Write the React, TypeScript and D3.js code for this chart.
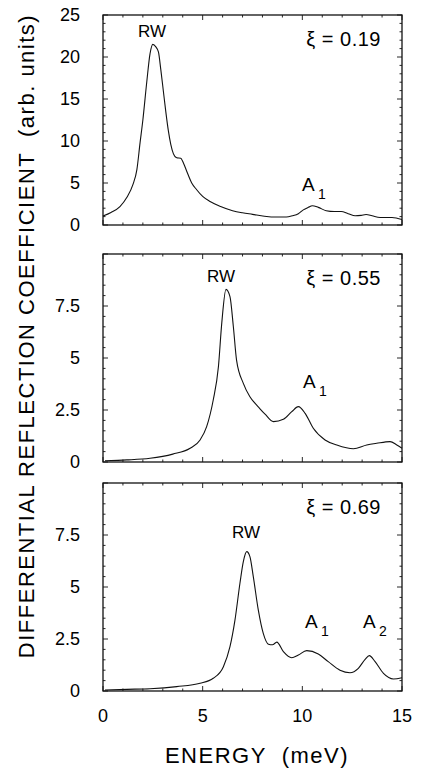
import React, { useRef, useEffect } from 'react';
import * as d3 from 'd3';

// xi = 0.19
const energy1 = [0, 0.4, 0.85, 1.2, 1.5, 1.7, 1.86, 2.0, 2.19, 2.36, 2.5, 2.65, 2.78, 2.9, 3.03, 3.15, 3.28, 3.4, 3.53, 3.7, 3.9, 4.05, 4.2, 4.45, 4.7, 5.0, 5.37, 5.9, 6.5, 7.0, 7.5, 8.1, 8.7, 9.2, 9.5, 9.8, 10.05, 10.3, 10.5, 10.8, 11.2, 11.6, 11.95, 12.3, 12.65, 12.95, 13.2, 13.5, 13.9, 14.5, 15];
const signal1 = [1.07, 1.5, 2.2, 3.3, 4.8, 6.6, 9.8, 12.5, 16.9, 20.4, 21.5, 21.2, 20.6, 18.5, 15.9, 13.5, 11.2, 9.6, 8.5, 8.0, 7.95, 7.3, 6.4, 5.0, 4.2, 3.4, 2.8, 2.2, 1.7, 1.45, 1.27, 1.05, 0.95, 0.95, 1.1, 1.35, 1.8, 2.1, 2.3, 2.1, 1.7, 1.6, 1.6, 1.35, 1.1, 1.15, 1.25, 1.1, 0.9, 0.9, 0.65];

// xi = 0.55
const energy2 = [0.1, 1.2, 2.36, 3.5, 4.37, 4.87, 5.2, 5.53, 5.79, 5.96, 6.17, 6.37, 6.54, 6.7, 7.04, 7.37, 7.6, 7.79, 8.13, 8.55, 9.05, 9.47, 9.8, 10.14, 10.55, 11.14, 11.73, 12.56, 13.23, 13.73, 14.4, 14.74, 15];
const signal2 = [0.06, 0.1, 0.18, 0.38, 0.66, 1.06, 1.7, 2.98, 4.58, 6.7, 8.3, 7.95, 6.5, 4.9, 3.78, 3.14, 2.85, 2.65, 2.3, 1.94, 2.05, 2.42, 2.66, 2.34, 1.62, 1.06, 0.82, 0.64, 0.82, 0.9, 0.98, 0.82, 0.66];

// xi = 0.69
const energy3 = [0.1, 1.2, 2.36, 3.7, 4.87, 5.53, 6.04, 6.37, 6.62, 6.87, 7.04, 7.21, 7.37, 7.54, 7.79, 8.04, 8.3, 8.5, 8.72, 9.05, 9.47, 9.8, 10.22, 10.8, 11.3, 11.89, 12.39, 12.81, 13.15, 13.36, 13.65, 14.07, 14.57, 15];
const signal3 = [0.05, 0.08, 0.11, 0.21, 0.37, 0.61, 1.17, 2.13, 3.41, 5.18, 6.22, 6.7, 6.46, 5.5, 3.9, 2.77, 2.25, 2.22, 2.35, 1.89, 1.6, 1.73, 1.94, 1.78, 1.41, 1.0, 0.88, 1.09, 1.52, 1.7, 1.41, 0.85, 0.58, 0.64];

const xiLabels = ['ξ = 0.19', 'ξ = 0.55', 'ξ = 0.69'];
const xTicks = [0, 5, 10, 15];
const yTicks1 = [0, 5, 10, 15, 20, 25];
const yTicks23 = [0, 2.5, 5, 7.5];

const FONT = '"Liberation Sans", Arial, Helvetica, sans-serif';

const App = () => {
  const svgRef = useRef(null);

  const w = 421;
  const h = 768;
  const left = 103;
  const right = 402;

  useEffect(() => {
    const svg = d3.select(svgRef.current);
    svg.selectAll('*').remove();

    const x = d3.scaleLinear().domain([0, 15]).range([left, right]);

    const panels = [
      { top: 15, bottom: 225, ymax: 25, ticks: yTicks1, minor: 1, e: energy1, s: signal1 },
      { top: 254, bottom: 462, ymax: 10, ticks: yTicks23, minor: 0.5, e: energy2, s: signal2 },
      { top: 483, bottom: 691, ymax: 10, ticks: yTicks23, minor: 0.5, e: energy3, s: signal3 },
    ];

    panels.forEach((p, i) => {
      const y = d3.scaleLinear().domain([0, p.ymax]).range([p.bottom, p.top]);
      const g = svg.append('g');

      // minor + major ticks, inward on all four sides
      d3.range(0, 15.01, 1).forEach(v => {
        const len = v % 5 === 0 ? 5 : 2.5;
        g.append('line').attr('x1', x(v)).attr('x2', x(v)).attr('y1', p.bottom).attr('y2', p.bottom - len);
        g.append('line').attr('x1', x(v)).attr('x2', x(v)).attr('y1', p.top).attr('y2', p.top + len);
      });
      d3.range(0, p.ymax + 0.001, p.minor).forEach(v => {
        const major = p.ticks.some(t => Math.abs(t - v) < 1e-6) || Math.abs(v - p.ymax) < 1e-6;
        const len = major ? 5 : 2.5;
        g.append('line').attr('x1', left).attr('x2', left + len).attr('y1', y(v)).attr('y2', y(v));
        g.append('line').attr('x1', right).attr('x2', right - len).attr('y1', y(v)).attr('y2', y(v));
      });
      g.selectAll('line').attr('stroke', '#111').attr('stroke-width', 0.9);

      // frame
      g.append('rect')
        .attr('x', left).attr('y', p.top)
        .attr('width', right - left).attr('height', p.bottom - p.top)
        .attr('fill', 'none').attr('stroke', '#111').attr('stroke-width', 1.3);

      // y tick labels
      g.selectAll('text.ytick')
        .data(p.ticks)
        .enter()
        .append('text')
        .attr('class', 'ytick')
        .attr('x', 80)
        .attr('y', d => y(d))
        .attr('dy', '0.36em')
        .attr('text-anchor', 'end')
        .attr('font-size', 18)
        .attr('font-family', FONT)
        .text(d => String(d));

      // curve
      const line = d3.line<number>()
        .x((d, k) => x(p.e[k]))
        .y(d => y(d))
        .curve(d3.curveMonotoneX);
      g.append('path')
        .attr('d', line(p.s))
        .attr('fill', 'none')
        .attr('stroke', '#111')
        .attr('stroke-width', 1.1);

      // xi label
      g.append('text')
        .attr('x', 381)
        .attr('y', p.top + 31)
        .attr('text-anchor', 'end')
        .attr('font-size', 20)
        .attr('letter-spacing', 0.5)
        .attr('font-family', FONT)
        .text(xiLabels[i]);
    });

    // peak annotations
    const notes = [
      { t: 'RW', x: 152, y: 37, sub: '' },
      { t: 'RW', x: 221, y: 282, sub: '' },
      { t: 'RW', x: 246, y: 538, sub: '' },
      { t: 'A', x: 302, y: 191, sub: '1' },
      { t: 'A', x: 303, y: 388, sub: '1' },
      { t: 'A', x: 305, y: 628, sub: '1' },
      { t: 'A', x: 363, y: 628, sub: '2' },
    ];
    notes.forEach(n => {
      if (n.sub) {
        svg.append('text')
          .attr('x', n.x).attr('y', n.y)
          .attr('font-size', 19).attr('font-family', FONT)
          .text(n.t);
        svg.append('text')
          .attr('x', n.x + 16).attr('y', n.y + 8)
          .attr('font-size', 14).attr('font-family', FONT)
          .text(n.sub);
      } else {
        svg.append('text')
          .attr('x', n.x).attr('y', n.y)
          .attr('text-anchor', 'middle')
          .attr('font-size', 17).attr('font-family', FONT)
          .text(n.t);
      }
    });

    // x tick labels (bottom panel)
    svg.selectAll('text.xtick')
      .data(xTicks)
      .enter()
      .append('text')
      .attr('class', 'xtick')
      .attr('x', d => x(d))
      .attr('y', 722)
      .attr('text-anchor', 'middle')
      .attr('font-size', 18)
      .attr('font-family', FONT)
      .text(d => String(d));

    // axis titles
    svg.append('text')
      .attr('x', 257)
      .attr('y', 763)
      .attr('text-anchor', 'middle')
      .attr('font-size', 22)
      .attr('letter-spacing', 1.5)
      .attr('font-family', FONT)
      .text('ENERGY  (meV)')
      .style('white-space', 'pre');

    svg.append('text')
      .attr('transform', 'translate(34,336) rotate(-90)')
      .attr('text-anchor', 'middle')
      .attr('font-size', 22)
      .attr('letter-spacing', 1.5)
      .attr('font-family', FONT)
      .text('DIFFERENTIAL REFLECTION COEFFICIENT  (arb. units)')
      .style('white-space', 'pre');
  }, []);

  return (
    <svg
      ref={svgRef}
      width={w}
      height={h}
      style={{ position: 'absolute', left: 0, top: 0, background: '#fff' }}
    ></svg>
  );
};

export default App;
